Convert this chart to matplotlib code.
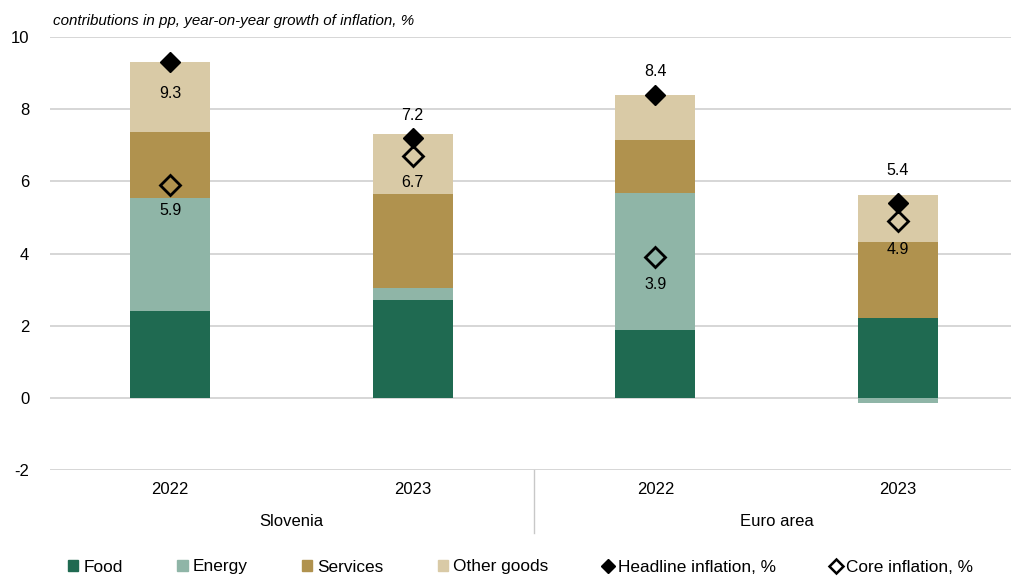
import numpy as np
import matplotlib.pyplot as plt
from matplotlib.lines import Line2D
from matplotlib.patches import Patch

plt.rcParams['font.family'] = ['Liberation Sans', 'DejaVu Sans']
plt.rcParams['axes.unicode_minus'] = False

# Contributions to inflation, percentage points
years = ['2022', '2023', '2022', '2023']
regions = ['Slovenia', 'Euro area']
food = [2.41, 2.71, 1.88, 2.22]
energy = [3.13, 0.33, 3.80, -0.13]
services = [1.83, 2.60, 1.47, 2.10]
other_goods = [1.94, 1.66, 1.24, 1.30]
headline = [9.3, 7.2, 8.4, 5.4]
core = [5.9, 6.7, 3.9, 4.9]

colors = {
    'Food': '#1f6a51',
    'Energy': '#8fb5a7',
    'Services': '#b0924e',
    'Other goods': '#d9caa6',
}

# label placement (pixels above/below the marker)
headline_offset = [-31, 23, 23, 32]
core_offset = [-26, -26, -27, -28]


def main():
    fig = plt.figure(figsize=(10.11, 5.76), dpi=100)
    ax = fig.add_axes([50 / 1011, 1 - 470 / 576, 1 - 50 / 1011, (470 - 37) / 576])

    x = np.arange(len(years))
    width = 0.33

    # stack positives upward, negatives downward
    pos_base = np.zeros(len(x))
    neg_base = np.zeros(len(x))
    for name, vals in zip(colors, (food, energy, services, other_goods)):
        vals = np.array(vals)
        base = np.where(vals >= 0, pos_base, neg_base)
        ax.bar(x, vals, width, bottom=base, color=colors[name], zorder=2)
        pos_base += np.clip(vals, 0, None)
        neg_base += np.clip(vals, None, 0)

    ax.plot(x, headline, 'D', color='black', markersize=10, linestyle='none', zorder=4)
    ax.plot(x, core, 'D', markerfacecolor='none', markeredgecolor='black',
            markeredgewidth=2, markersize=10, linestyle='none', zorder=4)

    for xi, v, off in zip(x, headline, headline_offset):
        ax.annotate(f'{v:.1f}', (xi, v), xytext=(0, off), textcoords='offset pixels',
                    ha='center', va='center', fontsize=11.5, zorder=5)
    for xi, v, off in zip(x, core, core_offset):
        ax.annotate(f'{v:.1f}', (xi, v), xytext=(0, off), textcoords='offset pixels',
                    ha='center', va='center', fontsize=11.5, zorder=5)

    # Y axis
    ax.set_ylim(-2, 10)
    ax.set_yticks(np.arange(-2, 11, 2))
    ax.yaxis.grid(True, color='#cfcfcf', linewidth=1.2)
    ax.tick_params(axis='y', length=0, pad=15, labelsize=12)

    # X axis
    ax.set_xlim(-120 / 242.67, 841 / 242.67)
    ax.set_xticks(x)
    ax.set_xticklabels(years)
    ax.tick_params(axis='x', length=0, pad=9, labelsize=12)
    for side in ('top', 'right', 'left', 'bottom'):
        ax.spines[side].set_visible(False)
    ax.set_axisbelow(True)

    for i, region in enumerate(regions):
        ax.text(2 * i + 0.5, -0.12, region, transform=ax.get_xaxis_transform(),
                ha='center', va='center', fontsize=12)
    ax.plot([1.5, 1.5], [0, -0.145], transform=ax.get_xaxis_transform(),
            color='#c8c8c8', linewidth=1, clip_on=False)

    ax.annotate('contributions in pp, year-on-year growth of inflation, %',
                (3 / 961, 1.0), xycoords='axes fraction', xytext=(0, 9),
                textcoords='offset pixels', ha='left', va='bottom', fontsize=10.9,
                style='italic')

    handles = [Patch(color=c, label=n) for n, c in colors.items()]
    handles += [
        Line2D([], [], marker='D', color='black', linestyle='none', markersize=7,
               label='Headline inflation, %'),
        Line2D([], [], marker='D', markerfacecolor='none', markeredgecolor='black',
               markeredgewidth=1.8, linestyle='none', markersize=7,
               label='Core inflation, %'),
    ]
    fig.legend(handles=handles, loc='center', bbox_to_anchor=(0.515, 1 - 567 / 576),
               ncol=6, frameon=False, fontsize=12.4, handlelength=0.6, handleheight=0.6,
               handletextpad=0.3, columnspacing=3.15, borderaxespad=0)

    fig.savefig('out.png', dpi=100)


if __name__ == '__main__':
    main()
